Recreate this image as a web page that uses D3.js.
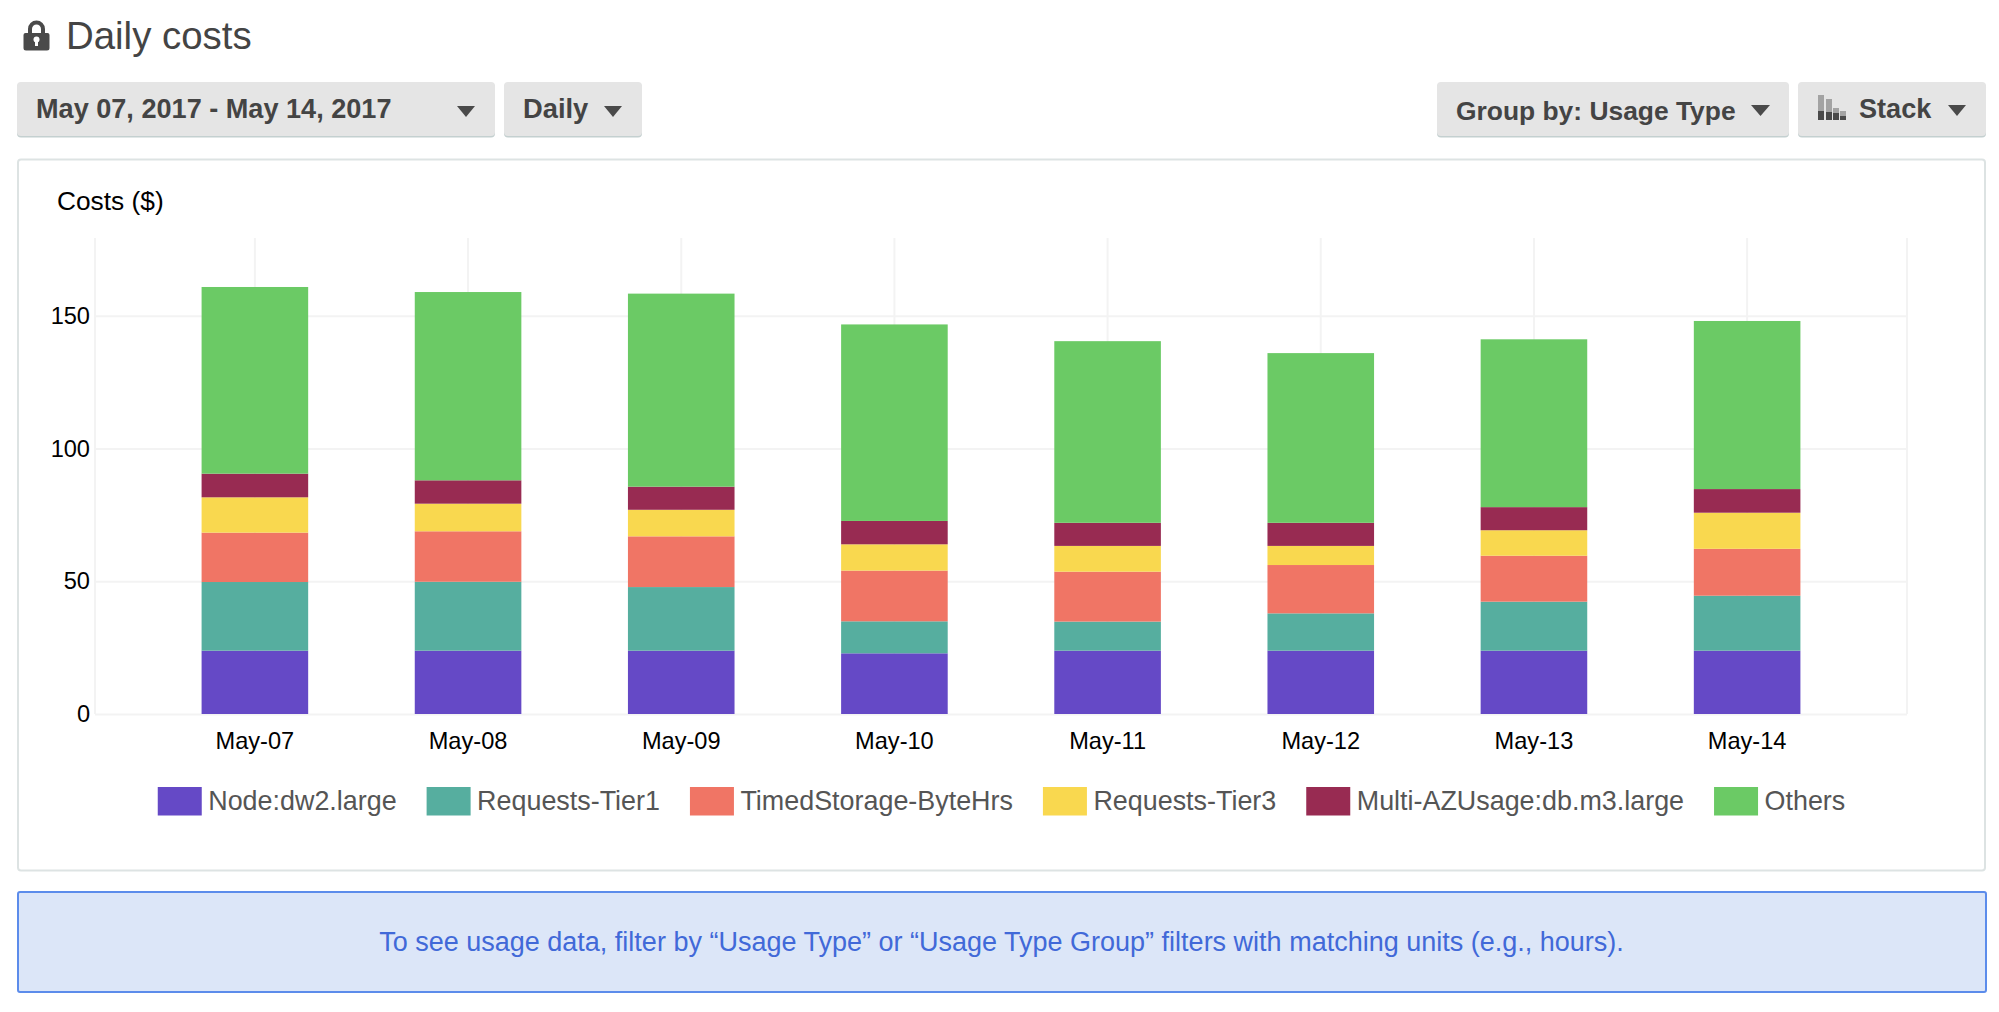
<!DOCTYPE html>
<html>
<head>
<meta charset="utf-8">
<title>Daily costs</title>
<script src="https://cdn.jsdelivr.net/npm/d3@7"></script>
<style>
  html, body { margin: 0; padding: 0; background: #fff; }
  svg { display: block; }
  text { font-family: "Liberation Sans", Arial, sans-serif; }
  .axis .domain { display: none; }
  .axis .tick line { stroke: #f3f3f3; stroke-width: 2; }
  .axis .tick text { fill: #000; font-size: 23.6px; }
</style>
</head>
<body>
<svg id="page" width="1999" height="1012"></svg>
<script>
// Cost data per day, one array per usage type (dollars)
const days = ["May-07", "May-08", "May-09", "May-10", "May-11", "May-12", "May-13", "May-14"];
const nodeDw2 = [23.85, 23.85, 23.85, 22.85, 23.85, 23.85, 23.85, 23.85];
const requestsTier1 = [25.85, 25.95, 23.95, 12.05, 10.95, 14.05, 18.45, 20.7];
const timedStorage = [18.6, 19.0, 19.1, 19.1, 18.8, 18.2, 17.3, 17.65];
const requestsTier3 = [13.3, 10.4, 10.0, 9.9, 9.7, 7.2, 9.6, 13.6];
const multiAz = [8.9, 8.8, 8.7, 8.8, 8.7, 8.7, 8.7, 8.9];
const others = [70.3, 70.9, 72.7, 74.0, 68.4, 63.9, 63.2, 63.3];
const yTicks = [0, 50, 100, 150];

const seriesNames = ["Node:dw2.large", "Requests-Tier1", "TimedStorage-ByteHrs", "Requests-Tier3", "Multi-AZUsage:db.m3.large", "Others"];
const seriesValues = [nodeDw2, requestsTier1, timedStorage, requestsTier3, multiAz, others];
const seriesColors = ["#6549c6", "#56ae9f", "#f07565", "#f9d84f", "#982b52", "#6bca65"];

const svg = d3.select("#page");

// ---- Page furniture: heading, toolbar buttons, panel, notice ----
function caret(g, x, y, w, h) {
  g.append("path").attr("d", d3.line()([[x, y], [x + w, y], [x + w / 2, y + h]]) + "Z").attr("fill", "#4a4a4a");
}
function button(x, y, w, h) {
  const g = svg.append("g");
  g.append("rect").attr("x", x).attr("y", y + 1.5).attr("width", w).attr("height", h).attr("rx", 4).attr("fill", "#c4d0d0");
  g.append("rect").attr("x", x).attr("y", y).attr("width", w).attr("height", h).attr("rx", 4).attr("fill", "#e5e5e5");
  return g;
}
function buttonLabel(g, label, x, y, size) {
  g.append("text").attr("x", x).attr("y", y).attr("font-size", size).attr("font-weight", 700).attr("fill", "#444").text(label);
}

// padlock
const lock = svg.append("g").attr("fill", "#4a4a4a");
lock.append("path")
  .attr("fill-rule", "evenodd")
  .attr("d", "M28 33V29a8.5 8.5 0 0 1 17 0V33H47.5a2 2 0 0 1 2 2V48a2.5 2.5 0 0 1-2.5 2.5H26a2.5 2.5 0 0 1-2.5-2.5V35a2 2 0 0 1 2-2ZM32 33H41V29a4.5 4.5 0 0 0-9 0Z");
lock.append("circle").attr("cx", 36.5).attr("cy", 39.5).attr("r", 3).attr("fill", "#fff");
lock.append("rect").attr("x", 35).attr("y", 40).attr("width", 3).attr("height", 6).attr("fill", "#fff");

svg.append("text").attr("x", 66).attr("y", 49).attr("font-size", 38.4).attr("fill", "#444").text("Daily costs");

const dateBtn = button(17, 82, 478, 54);
buttonLabel(dateBtn, "May 07, 2017 - May 14, 2017", 36, 118, 27.1);
caret(dateBtn, 457, 106, 18, 11);

const freqBtn = button(504, 82, 138, 54);
buttonLabel(freqBtn, "Daily", 523, 118, 27.3);
caret(freqBtn, 604, 106, 18, 11);

const groupBtn = button(1437, 82, 352, 54);
buttonLabel(groupBtn, "Group by: Usage Type", 1456, 120, 26.4);
caret(groupBtn, 1751, 105, 19, 11);

const stackBtn = button(1798, 82, 188, 54);
buttonLabel(stackBtn, "Stack", 1859, 118, 27.1);
caret(stackBtn, 1948, 105, 18, 11);
// small stacked-bars glyph inside the chart-type button
[[1818, 95, 111, 120], [1826, 99, 112, 120], [1833, 108, 113, 120], [1840, 111, 116, 120]].forEach(([x, top, mid, bottom]) => {
  stackBtn.append("rect").attr("x", x).attr("y", top).attr("width", 6).attr("height", mid - top).attr("fill", "#a3a3a3");
  stackBtn.append("rect").attr("x", x).attr("y", mid).attr("width", 6).attr("height", bottom - mid).attr("fill", "#4a4a4a");
});

// chart panel
svg.append("rect").attr("x", 18).attr("y", 159.5).attr("width", 1967).attr("height", 711).attr("rx", 3)
  .attr("fill", "#fff").attr("stroke", "#dde3e3").attr("stroke-width", 2);

svg.append("text").attr("x", 57).attr("y", 210).attr("font-size", 26.3).attr("fill", "#000").text("Costs ($)");

// notice banner
svg.append("rect").attr("x", 18).attr("y", 892).attr("width", 1968).attr("height", 100).attr("rx", 2)
  .attr("fill", "#dce6f8").attr("stroke", "#5c8ceb").attr("stroke-width", 2);
svg.append("text").attr("x", 1001.5).attr("y", 951).attr("text-anchor", "middle").attr("font-size", 27).attr("fill", "#4169d8")
  .text("To see usage data, filter by \u201cUsage Type\u201d or \u201cUsage Type Group\u201d filters with matching units (e.g., hours).");

// ---- Stacked bar chart ----
const plot = { left: 95, right: 1907, top: 236, bottom: 714 };
const gridTop = plot.top + 2;

const x = d3.scaleBand().domain(days).range([plot.left, plot.right]).paddingInner(0.5).paddingOuter(0.5);
const y = d3.scaleLinear().domain([0, 180]).range([plot.bottom, plot.top]);

const rows = days.map((day, i) => {
  const row = { day };
  seriesNames.forEach((name, s) => { row[name] = seriesValues[s][i]; });
  return row;
});
const layers = d3.stack().keys(seriesNames)(rows);

// y axis with full-width horizontal grid
svg.append("g").attr("class", "axis").attr("transform", `translate(${plot.left},0)`)
  .call(d3.axisLeft(y).tickValues(yTicks).tickSize(-(plot.right - plot.left)).tickPadding(5).tickFormat(d3.format("d")));

// x axis with vertical grid through each day's centre
svg.append("g").attr("class", "axis").attr("transform", `translate(0,${plot.bottom})`)
  .call(d3.axisBottom(x).tickSize(-(plot.bottom - gridTop)).tickPadding(18));

// frame lines at the plot's left and right edges
svg.append("g").selectAll("line").data([plot.left, plot.right]).join("line")
  .attr("x1", d => d).attr("x2", d => d).attr("y1", gridTop).attr("y2", plot.bottom)
  .attr("stroke", "#f3f3f3").attr("stroke-width", 2);

svg.append("g").selectAll("g").data(layers).join("g")
  .attr("fill", (d, i) => seriesColors[i])
  .selectAll("rect").data(d => d).join("rect")
  .attr("x", d => x(d.data.day))
  .attr("width", x.bandwidth())
  .attr("y", d => y(d[1]))
  .attr("height", d => y(d[0]) - y(d[1]));

// ---- Legend: flowed from measured label widths, centred in the panel ----
const swatchW = 44, swatchH = 28.5, swatchGap = 6.5, itemGap = 30;
const legend = svg.append("g");
const items = seriesNames.map((name, i) => {
  const g = legend.append("g");
  g.append("rect").attr("y", 787).attr("width", swatchW).attr("height", swatchH).attr("fill", seriesColors[i]);
  const t = g.append("text").attr("x", swatchW + swatchGap).attr("y", 809.5).attr("font-size", 26.9).attr("fill", "#555").text(name);
  return { g, w: swatchW + swatchGap + t.node().getComputedTextLength() };
});
const total = d3.sum(items, d => d.w) + itemGap * (items.length - 1);
let cursor = 1001.5 - total / 2;
items.forEach(item => {
  item.g.attr("transform", `translate(${cursor},0)`);
  cursor += item.w + itemGap;
});
</script>
</body>
</html>
